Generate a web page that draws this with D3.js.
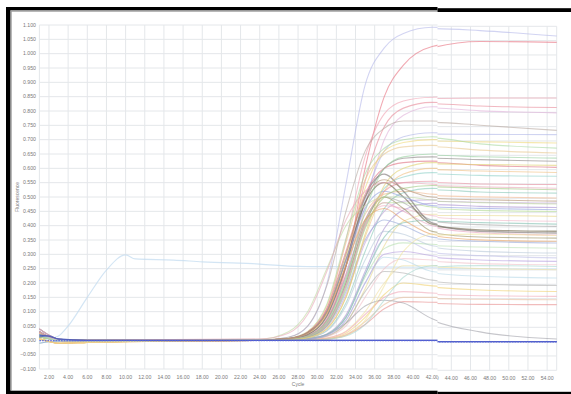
<!DOCTYPE html>
<html><head><meta charset="utf-8">
<script src="https://cdn.jsdelivr.net/npm/d3@7/dist/d3.min.js"></script>
<style>html,body{margin:0;padding:0;background:#fff;overflow:hidden}svg{display:block}</style>
</head><body><svg id="c" width="571" height="394"></svg>
<script>
// ---- data ----
const cycles = [1,2,3,6,24,27,29,31,33,35,37,39,42,47,55];
const xTicks = [2,4,6,8,10,12,14,16,18,20,22,24,26,28,30,32,34,36,38,40,42,44,46,48,50,52,54];
const yTicks = d3.range(0,25).map(i => +(-0.1 + i*0.05).toFixed(3));
const seriesColors = [
 "#b4b8ea","#e8707f","#f0a0b0","#e88898","#e0b0d8","#b8a8a0","#b0b8e8","#f0d878","#a8d8a0","#e8c890",
 "#8a8484","#e07080","#90d0c8","#e890a0","#88c8b8","#f0b890","#c0a0d8","#a890d0","#b0d890","#e8d890",
 "#f0b8c8","#a8a8a8","#6e6448","#787070","#9a9060","#98a8d8","#b8e0b0","#b8c8d8","#c0c0e8","#f0c0c8",
 "#f0e0a0","#b8d8e8","#b0b0b0","#f0d070","#f0a8b8","#e8c0a0","#e89090","#a0a0a8","#98d0a0","#f0c080",
 "#90a0e0","#80c0b0","#e8a0c0","#e8a060","#a0c880","#e0d070","#b09070","#b8a0e0","#c0d8a0","#e8a8b8",
 "#f0e4a0","#a8d8d0","#3848b0","#5060c0"];
const seriesValues = [
 [0.02,0.008,0.0,-0.002,0.0, 0.011,0.049,0.196,0.545,0.89,1.02,1.07,1.092,1.085,1.066],
 [0.03,0.012,0.002,0,0.001, 0.003,0.015,0.066,0.255,0.6,0.85,0.96,1.025,1.047,1.044],
 [0.012,0.006,0.001,0,0, 0.006,0.026,0.11,0.35,0.64,0.79,0.835,0.848,0.85,0.85],
 [0.04,0.018,0.004,0.001,0.002, 0.004,0.016,0.074,0.26,0.555,0.745,0.81,0.83,0.822,0.817],
 [0.025,0.01,0,-0.004,0, 0.003,0.012,0.05,0.2,0.47,0.7,0.785,0.815,0.805,0.798],
 [0.03,0.012,0.002,0,0.001, 0.011,0.05,0.19,0.45,0.66,0.74,0.765,0.765,0.755,0.737],
 [0.012,0.006,0.001,0,0, 0.004,0.014,0.065,0.23,0.49,0.66,0.71,0.724,0.723,0.722],
 [0.005,-0.004,-0.01,-0.007,0.001, 0.005,0.021,0.09,0.29,0.53,0.66,0.69,0.70,0.697,0.693],
 [0.02,0.008,0,-0.002,0, 0.007,0.03,0.125,0.355,0.58,0.67,0.70,0.71,0.69,0.675],
 [0.005,-0.004,-0.01,-0.007,0.001, 0.007,0.03,0.12,0.34,0.56,0.65,0.675,0.68,0.668,0.658],
 [0.04,0.018,0.004,0.001,0.002, 0.005,0.02,0.082,0.26,0.48,0.6,0.635,0.64,0.635,0.629],
 [0.03,0.012,0.002,0,0.001, 0.006,0.028,0.11,0.31,0.51,0.6,0.62,0.625,0.615,0.608],
 [0.012,0.006,0.001,0,0, 0.003,0.012,0.053,0.19,0.4,0.53,0.57,0.585,0.58,0.577],
 [0.025,0.01,0,-0.004,0, 0.004,0.017,0.07,0.23,0.42,0.52,0.55,0.555,0.55,0.548],
 [-0.01,-0.005,-0.003,0,0, 0.002,0.008,0.034,0.13,0.31,0.46,0.515,0.53,0.522,0.518],
 [0.005,-0.004,-0.01,-0.007,0.001, 0.005,0.023,0.092,0.26,0.44,0.51,0.52,0.51,0.505,0.501],
 [0.02,0.008,0,-0.002,0, 0.003,0.01,0.045,0.16,0.34,0.45,0.485,0.49,0.486,0.483],
 [0.03,0.012,0.002,0,0.001, 0.001,0.005,0.022,0.088,0.24,0.39,0.455,0.478,0.472,0.468],
 [0.012,0.006,0.001,0,0, 0.004,0.016,0.065,0.21,0.4,0.48,0.48,0.465,0.458,0.454],
 [0.005,-0.004,-0.01,-0.007,0.001, 0.001,0.003,0.014,0.06,0.18,0.33,0.415,0.44,0.44,0.437],
 [0.025,0.01,0,-0.004,0, 0.003,0.012,0.053,0.19,0.4,0.47,0.46,0.435,0.425,0.42],
 [0.04,0.018,0.004,0.001,0.002, 0.004,0.016,0.07,0.22,0.42,0.5,0.48,0.42,0.408,0.402],
 [0.03,0.012,0.002,0,0.001, 0.006,0.026,0.1,0.28,0.48,0.55,0.5,0.405,0.39,0.385],
 [0.02,0.008,0,-0.002,0, 0.005,0.02,0.085,0.26,0.5,0.58,0.52,0.41,0.385,0.379],
 [0.012,0.006,0.001,0,0, 0.003,0.013,0.058,0.2,0.41,0.5,0.46,0.38,0.365,0.361],
 [-0.01,-0.005,-0.003,0,0, 0.003,0.012,0.05,0.17,0.35,0.42,0.4,0.36,0.35,0.344],
 [0.02,0.008,0,-0.002,0, 0.001,0.005,0.02,0.08,0.22,0.32,0.34,0.335,0.33,0.326],
 [0.03,0.012,0.002,0,0.001, 0.002,0.008,0.032,0.12,0.28,0.38,0.37,0.33,0.315,0.309],
 [0.012,0.006,0.001,0,0, 0.001,0.005,0.02,0.08,0.23,0.35,0.35,0.31,0.3,0.292],
 [0.025,0.01,0,-0.004,0, 0.001,0.003,0.013,0.05,0.15,0.25,0.285,0.28,0.272,0.268],
 [0.005,-0.004,-0.01,-0.007,0.001, 0,0.002,0.008,0.032,0.1,0.2,0.26,0.26,0.255,0.251],
 [0.02,0.008,0,-0.002,0, 0.001,0.004,0.017,0.07,0.2,0.29,0.28,0.24,0.228,0.222],
 [0.04,0.018,0.004,0.001,0.002, 0.001,0.004,0.015,0.06,0.17,0.24,0.235,0.21,0.2,0.196],
 [0.005,-0.004,-0.01,-0.007,0.001, 0,0.002,0.006,0.025,0.08,0.16,0.2,0.19,0.18,0.175],
 [0.03,0.012,0.002,0,0.001, 0,0.002,0.008,0.03,0.09,0.15,0.17,0.165,0.16,0.158],
 [0.012,0.006,0.001,0,0, 0,0.001,0.005,0.02,0.065,0.125,0.15,0.15,0.148,0.146],
 [0.025,0.01,0,-0.004,0, 0,0.001,0.004,0.018,0.055,0.11,0.135,0.133,0.13,0.129],
 [0.02,0.008,0,-0.002,0, 0.002,0.006,0.02,0.06,0.12,0.14,0.13,0.075,0.034,0.009],
 [0.012,0.006,0.001,0,0, 0.003,0.014,0.06,0.21,0.45,0.6,0.64,0.65,0.645,0.64],
 [0.005,-0.004,-0.01,-0.007,0.001, 0.002,0.009,0.04,0.15,0.36,0.52,0.58,0.6,0.595,0.59],
 [0.03,0.012,0.002,0,0.001, 0.006,0.025,0.1,0.28,0.46,0.52,0.5,0.47,0.465,0.46],
 [0.02,0.008,0,-0.002,0, 0.001,0.004,0.02,0.08,0.23,0.36,0.41,0.42,0.415,0.41],
 [0.04,0.018,0.004,0.001,0.002, 0.003,0.013,0.055,0.19,0.4,0.48,0.45,0.4,0.38,0.372],
 [0.005,-0.004,-0.01,-0.007,0.001, 0.006,0.024,0.095,0.26,0.42,0.46,0.42,0.37,0.355,0.35],
 [0.012,0.006,0.001,0,0, 0.003,0.012,0.05,0.18,0.39,0.5,0.53,0.54,0.535,0.53],
 [0.025,0.01,0,-0.004,0, 0.002,0.009,0.04,0.15,0.37,0.54,0.6,0.62,0.618,0.615],
 [0.03,0.012,0.002,0,0.001, 0.006,0.026,0.1,0.3,0.5,0.56,0.53,0.5,0.495,0.49],
 [0.02,0.008,0,-0.002,0, 0.001,0.004,0.018,0.07,0.2,0.3,0.31,0.295,0.285,0.28],
 [0.012,0.006,0.001,0,0.004, 0.03,0.1,0.25,0.4,0.47,0.5,0.5,0.49,0.485,0.48],
 [0.03,0.012,0.002,0,0.005, 0.025,0.09,0.24,0.42,0.52,0.55,0.55,0.545,0.54,0.535],
 [0.005,-0.004,-0.01,-0.007,0.001, 0,0.001,0.004,0.017,0.07,0.19,0.31,0.37,0.375,0.37],
 [0.02,0.008,0,-0.002,0, 0,0.001,0.004,0.015,0.055,0.14,0.22,0.26,0.265,0.262],
 [0.018,0.014,0.005,0,0, 0,0,0,0,0,0,0,0,0,0],
 [0.012,0.016,0.004,0,0, 0,0,0,0,0,0,0,0,0,0]
];
// odd early-rising light blue trace
const oddCycles = [1,2,3,4,6,8,10,11,15,18,24,28,31,35,42,55];
const oddValues = [0.0,0.005,0.015,0.05,0.15,0.245,0.298,0.284,0.28,0.274,0.266,0.258,0.257,0.256,0.255,0.254];
const threshold = [[1,-0.001],[55,-0.001]];

// ---- drawing ----
const svg = d3.select("#c");
const x = d3.scaleLinear().domain([1,55]).range([39.4,556.7]);
const y = d3.scaleLinear().domain([-0.1,1.1]).range([369,25]);
const line = d3.line().x(d => x(d[0])).y(d => y(d[1])).curve(d3.curveMonotoneX);
const font = "Liberation Sans, Arial, sans-serif";

const defs = svg.append("defs");
defs.append("clipPath").attr("id","cl").append("rect").attr("x",0).attr("y",0).attr("width",437.5).attr("height",394);
defs.append("clipPath").attr("id","cr").append("rect").attr("x",437.5).attr("y",0).attr("width",134).attr("height",394);
defs.append("filter").attr("id","soft").attr("x","-5%").attr("y","-5%").attr("width","110%").attr("height","110%")
  .append("feGaussianBlur").attr("stdDeviation",0.45);

function panel(g){
  // grid
  g.append("g").selectAll("line").data(yTicks).join("line")
    .attr("x1",x(1)).attr("x2",x(55)).attr("y1",d=>y(d)).attr("y2",d=>y(d))
    .attr("stroke","#e4e7ea").attr("stroke-width",1);
  g.append("g").selectAll("line").data([1].concat(xTicks).concat([55])).join("line")
    .attr("x1",d=>x(d)).attr("x2",d=>x(d)).attr("y1",y(1.1)).attr("y2",y(-0.1))
    .attr("stroke","#e4e7ea").attr("stroke-width",1);
  // y tick labels
  g.append("g").selectAll("text").data(yTicks).join("text")
    .attr("x",36).attr("y",d=>y(d)+1.8).attr("text-anchor","end")
    .attr("font-family",font).attr("font-size",5.2).attr("fill","#7a7a7a")
    .text(d=>d3.format(".3f")(d));
  // x tick labels
  g.append("g").selectAll("text").data(xTicks).join("text")
    .attr("x",d=>x(d)).attr("y",378.5).attr("text-anchor","middle")
    .attr("font-family",font).attr("font-size",5.2).attr("fill","#7a7a7a")
    .text(d=>d3.format(".2f")(d));
  g.append("text").attr("x",(x(1)+x(55))/2).attr("y",385.5).attr("text-anchor","middle")
    .attr("font-family",font).attr("font-size",5).attr("fill","#7a7a7a").text("Cycle");
  g.append("text").attr("transform","translate(18.5,197) rotate(-90)").attr("text-anchor","middle")
    .attr("font-family",font).attr("font-size",5).attr("fill","#7a7a7a").text("Fluorescence");
  // curves
  const cg = g.append("g").attr("filter","url(#soft)");
  const data = seriesValues.map((vals,i)=>({c:seriesColors[i], pts:vals.map((v,j)=>[cycles[j],v])}));
  cg.append("path").attr("d",line(oddCycles.map((c,j)=>[c,oddValues[j]])))
    .attr("fill","none").attr("stroke","#c4dcf0").attr("stroke-width",1.2).attr("opacity",0.75);
  cg.append("g").selectAll("path").data(data).join("path")
    .attr("d",d=>line(d.pts)).attr("fill","none").attr("stroke",d=>d.c)
    .attr("stroke-width",(d,i)=> i===22||i===23 ? 1.3 : 1.1)
    .attr("opacity",(d,i)=> i>=52 ? 0.8 : 0.6);
  // threshold
  cg.append("path").attr("d",d3.line().x(d=>x(d[0])).y(d=>y(d[1]))(threshold))
    .attr("fill","none").attr("stroke","#5560e0").attr("stroke-width",1.3).attr("stroke-dasharray","1.6,1.1").attr("opacity",0.85);
}
panel(svg.append("g").attr("clip-path","url(#cl)"));
panel(svg.append("g").attr("clip-path","url(#cr)").append("g").attr("transform","translate(0,1.3)"));

// frame
svg.append("rect").attr("x",6).attr("y",7).attr("width",4.5).attr("height",387).attr("fill","#000");
svg.append("rect").attr("x",6).attr("y",7).attr("width",431.5).attr("height",3.4).attr("fill","#000");
svg.append("rect").attr("x",10.5).attr("y",10.4).attr("width",427).attr("height",1.3).attr("fill","#9a9a9a");
svg.append("rect").attr("x",10.5).attr("y",10.4).attr("width",1.2).attr("height",380).attr("fill","#9a9a9a");
svg.append("rect").attr("x",437.5).attr("y",8.2).attr("width",133.5).attr("height",3.8).attr("fill","#000");
svg.append("rect").attr("x",6).attr("y",390.7).attr("width",431.5).attr("height",3.3).attr("fill","#000");
svg.append("rect").attr("x",437.5).attr("y",391.8).attr("width",133.5).attr("height",2.2).attr("fill","#000");
</script></body></html>
